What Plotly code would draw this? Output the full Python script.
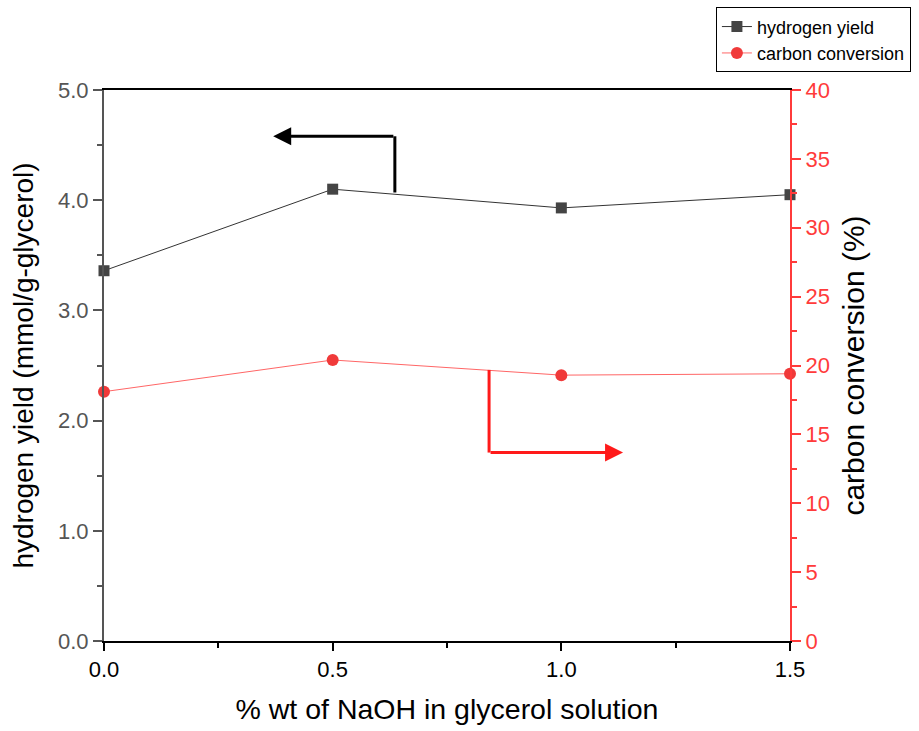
import plotly.graph_objects as go

naoh = [0.0, 0.5, 1.0, 1.5]
hydrogen_yield = [3.36, 4.10, 3.93, 4.05]
carbon_conversion = [18.1, 20.4, 19.3, 19.4]

FONT = "Liberation Sans, Arial, sans-serif"
GRAY = "#555555"
RED = "#ff3b3b"

fig = go.Figure()
fig.add_trace(go.Scatter(
    x=naoh, y=hydrogen_yield, name="hydrogen yield", mode="lines+markers",
    line=dict(color="#333333", width=1),
    marker=dict(symbol="square", size=11, color="#444444"),
    cliponaxis=False,
))
fig.add_trace(go.Scatter(
    x=naoh, y=carbon_conversion, name="carbon conversion", mode="lines+markers",
    line=dict(color="#ff6666", width=1),
    marker=dict(symbol="circle", size=12, color="#f03a3a"),
    yaxis="y2", cliponaxis=False,
))

# indicator arrows (x in data, y in left-axis units)
black_arrow = dict(x0=0.636, y_low=4.07, y_high=4.58, x_tip=0.37)
red_arrow = dict(x0=0.842, y_high=2.46, y_low=1.71, x_tip=1.135)

fig.add_shape(type="line", xref="x", yref="y",
              x0=black_arrow["x0"], x1=black_arrow["x0"],
              y0=black_arrow["y_low"], y1=black_arrow["y_high"],
              line=dict(color="black", width=3))
fig.add_annotation(x=black_arrow["x_tip"], y=black_arrow["y_high"],
                   ax=black_arrow["x0"], ay=black_arrow["y_high"],
                   xref="x", yref="y", axref="x", ayref="y",
                   showarrow=True, arrowhead=2, arrowsize=1.2, arrowwidth=3,
                   arrowcolor="black", text="")
fig.add_shape(type="line", xref="x", yref="y",
              x0=red_arrow["x0"], x1=red_arrow["x0"],
              y0=red_arrow["y_high"], y1=red_arrow["y_low"],
              line=dict(color="#ff1a1a", width=3))
fig.add_annotation(x=red_arrow["x_tip"], y=red_arrow["y_low"],
                   ax=red_arrow["x0"], ay=red_arrow["y_low"],
                   xref="x", yref="y", axref="x", ayref="y",
                   showarrow=True, arrowhead=2, arrowsize=1.2, arrowwidth=3,
                   arrowcolor="#ff1a1a", text="")

fig.update_layout(
    width=919, height=731,
    margin=dict(l=104, r=129, t=90, b=90, autoexpand=False),
    plot_bgcolor="white", paper_bgcolor="white",
    font=dict(family=FONT, size=22, color="black"),
    showlegend=True,
    legend=dict(x=0.892, y=1.15, xanchor="left", yanchor="top",
                bordercolor="black", borderwidth=1, bgcolor="white",
                font=dict(size=18, color="black"),
                tracegroupgap=0, itemwidth=30),
    xaxis=dict(
        range=[0, 1.5], tickvals=[0, 0.5, 1.0, 1.5], ticktext=["0.0", "0.5", "1.0", "1.5"],
        showline=True, linecolor="black", linewidth=2, mirror=True,
        ticks="outside", ticklen=8, tickwidth=2, tickcolor="black",
        minor=dict(ticks="outside", ticklen=5, tickwidth=1.5, tickcolor="black", dtick=0.25),
        showgrid=False, zeroline=False, automargin=False,
        tickfont=dict(size=22, color="black"),
        title=dict(text="% wt of NaOH in glycerol solution", font=dict(size=28.5), standoff=18),
    ),
    yaxis=dict(
        range=[0, 5], tickvals=[0, 1, 2, 3, 4, 5],
        ticktext=["0.0", "1.0", "2.0", "3.0", "4.0", "5.0"],
        showline=True, linecolor=GRAY, linewidth=2,
        ticks="outside", ticklen=9, tickwidth=2, tickcolor=GRAY,
        minor=dict(ticks="outside", ticklen=5, tickwidth=1.5, tickcolor=GRAY, dtick=0.5),
        showgrid=False, zeroline=False, automargin=False,
        tickfont=dict(size=22, color=GRAY),
        title=dict(text="hydrogen yield (mmol/g-glycerol)", font=dict(size=28), standoff=16),
    ),
    yaxis2=dict(
        range=[0, 40], tickvals=[0, 5, 10, 15, 20, 25, 30, 35, 40],
        overlaying="y", side="right",
        showline=True, linecolor=RED, linewidth=2,
        ticks="outside", ticklen=9, tickwidth=2, tickcolor=RED,
        minor=dict(ticks="outside", ticklen=5, tickwidth=1.5, tickcolor=RED, dtick=2.5),
        showgrid=False, zeroline=False, automargin=False,
        tickfont=dict(size=22, color=RED),
        title=dict(text="carbon conversion (%)", font=dict(size=30, color="black"), standoff=14),
    ),
)

fig.write_html("out.html")
